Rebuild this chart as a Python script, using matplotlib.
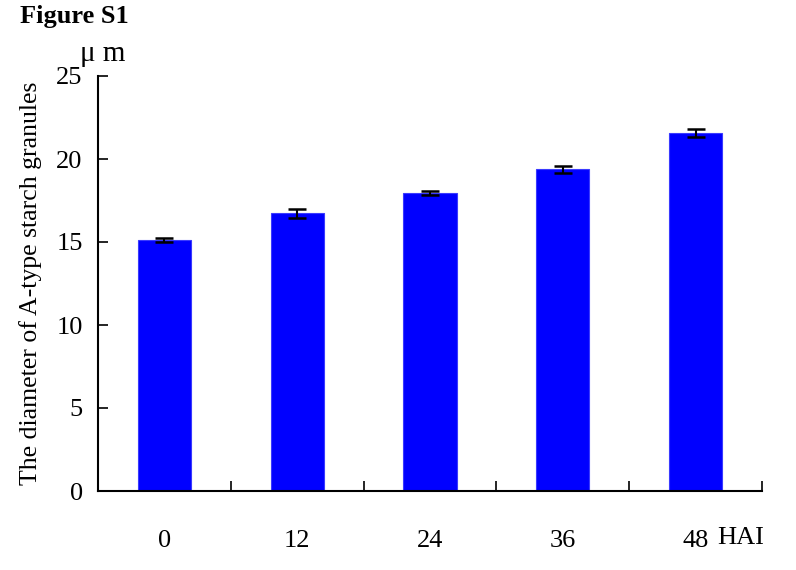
import matplotlib
matplotlib.use("Agg")
import matplotlib.pyplot as plt
import numpy as np

# data
hai_labels = ["0", "12", "24", "36", "48"]
diameter = [15.12, 16.72, 17.97, 19.38, 21.55]
sem = [0.15, 0.25, 0.13, 0.2, 0.25]

plt.rcParams['font.family'] = ['Liberation Serif', 'DejaVu Serif']

fig = plt.figure(figsize=(7.96, 5.70), dpi=100)
ax = fig.add_axes([98 / 796, 1 - 491 / 570, (762 - 98) / 796, (491 - 76) / 570])

x = np.arange(len(hai_labels))
ax.bar(x, diameter, width=0.4, color='#0000FF', edgecolor='#3a3aff', linewidth=0.8,
       yerr=sem, capsize=6.5, error_kw=dict(ecolor='black', elinewidth=1.5, capthick=1.8))

ax.set_xlim(-0.5, len(hai_labels) - 0.5)
ax.set_ylim(0, 25)

# ticks at category boundaries pointing up, labels at the centres
ax.set_xticks(np.arange(len(hai_labels) + 1) - 0.5)
ax.set_xticklabels([])
ax.tick_params(axis='x', which='major', direction='in', length=7, width=1.2)
ax.set_xticks(x, minor=True)
ax.set_xticklabels(hai_labels, minor=True, fontsize=19)
ax.tick_params(axis='x', which='minor', length=0, pad=28)

ax.set_yticks([0, 5, 10, 15, 20, 25])
ax.tick_params(axis='y', direction='in', length=7, width=1.2, labelsize=19, pad=11)

for s in ['top', 'right']:
    ax.spines[s].set_visible(False)
for s in ['left', 'bottom']:
    ax.spines[s].set_linewidth(1.5)

ax.set_ylabel('The diameter of A-type starch granules', fontsize=18.5, labelpad=10)

fig.text(741 / 796, 1 - 538 / 570, 'HAI', fontsize=19, ha='center', va='center')
fig.text(80 / 796, 1 - 54 / 570, 'μ m', fontsize=21, ha='left', va='center')
fig.text(20 / 796, 1 - 16 / 570, 'Figure S1', fontsize=19, fontweight='bold', ha='left', va='center')

fig.savefig('out.png', dpi=100)
